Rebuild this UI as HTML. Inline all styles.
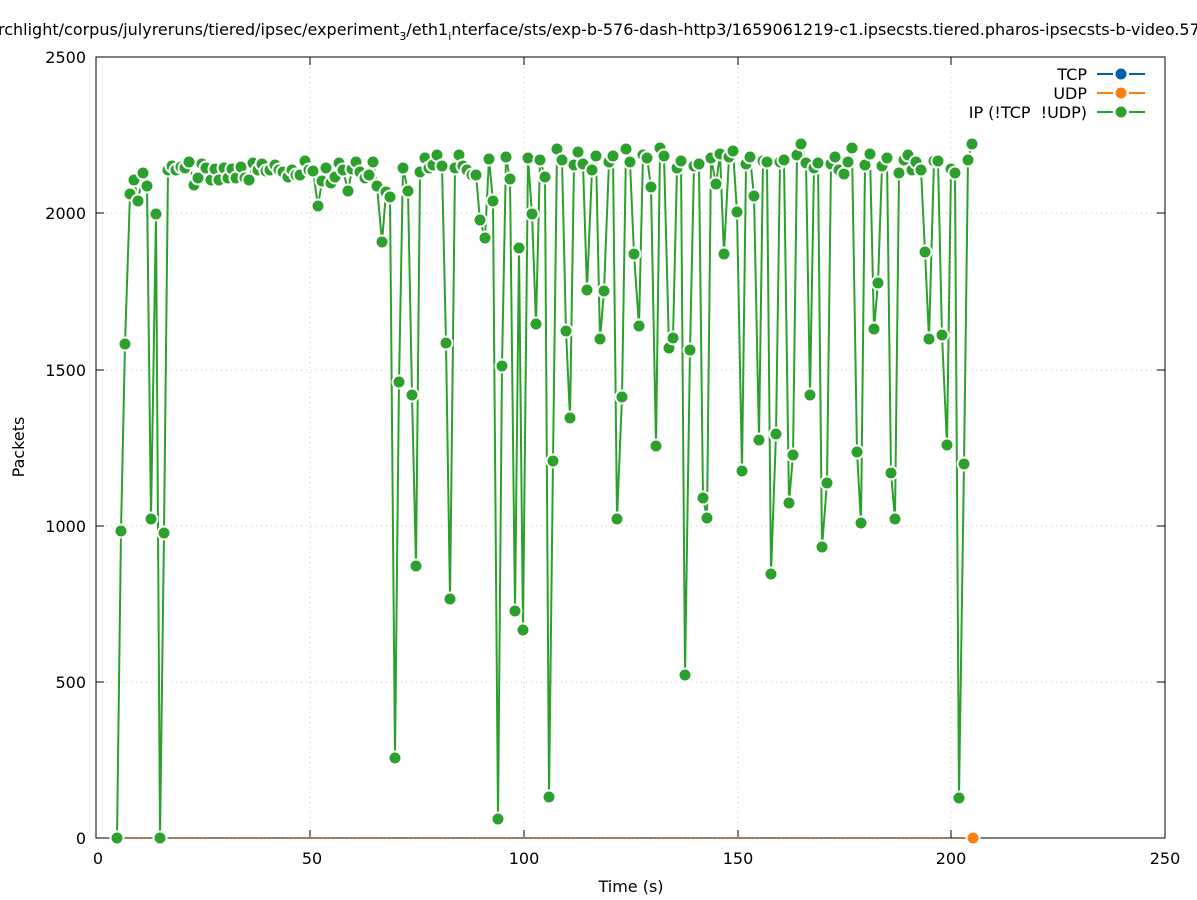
<!DOCTYPE html>
<html><head><meta charset="utf-8"><style>
body{margin:0;background:#fff}
svg{display:block;font-family:"DejaVu Sans","Liberation Sans",sans-serif}
</style></head><body>
<svg width="1197" height="900" viewBox="0 0 1197 900" xmlns="http://www.w3.org/2000/svg">
<rect width="1197" height="900" fill="#fff"/>
<g stroke="#c8c8c8" stroke-width="1" stroke-dasharray="1,4">
<line x1="310" y1="57" x2="310" y2="838"/><line x1="524" y1="57" x2="524" y2="838"/><line x1="738" y1="57" x2="738" y2="838"/><line x1="951" y1="57" x2="951" y2="838"/>
<line x1="96" y1="682" x2="1165" y2="682"/><line x1="96" y1="526" x2="1165" y2="526"/><line x1="96" y1="370" x2="1165" y2="370"/><line x1="96" y1="213" x2="1165" y2="213"/>
</g>
<rect x="96" y="57" width="1069" height="781" fill="none" stroke="#000" stroke-width="1"/>
<g stroke="#000" stroke-width="1">
<line x1="96" y1="838" x2="104" y2="838"/><line x1="96" y1="682" x2="104" y2="682"/><line x1="96" y1="526" x2="104" y2="526"/><line x1="96" y1="370" x2="104" y2="370"/><line x1="96" y1="213" x2="104" y2="213"/><line x1="96" y1="57" x2="104" y2="57"/>
<line x1="1165" y1="838" x2="1157" y2="838"/><line x1="1165" y1="682" x2="1157" y2="682"/><line x1="1165" y1="526" x2="1157" y2="526"/><line x1="1165" y1="370" x2="1157" y2="370"/><line x1="1165" y1="213" x2="1157" y2="213"/><line x1="1165" y1="57" x2="1157" y2="57"/>
<line x1="96" y1="838" x2="96" y2="830"/><line x1="310" y1="838" x2="310" y2="830"/><line x1="524" y1="838" x2="524" y2="830"/><line x1="738" y1="838" x2="738" y2="830"/><line x1="951" y1="838" x2="951" y2="830"/><line x1="1165" y1="838" x2="1165" y2="830"/>
<line x1="96" y1="57" x2="96" y2="65"/><line x1="310" y1="57" x2="310" y2="65"/><line x1="524" y1="57" x2="524" y2="65"/><line x1="738" y1="57" x2="738" y2="65"/><line x1="951" y1="57" x2="951" y2="65"/><line x1="1165" y1="57" x2="1165" y2="65"/>
</g>
<g font-size="16" fill="#000">
<g text-anchor="end"><text x="86" y="844">0</text><text x="86" y="688">500</text><text x="86" y="532">1000</text><text x="86" y="376">1500</text><text x="86" y="219">2000</text><text x="86" y="63">2500</text></g>
<g text-anchor="middle"><text x="98" y="864">0</text><text x="312" y="864">50</text><text x="524" y="864">100</text><text x="738" y="864">150</text><text x="951" y="864">200</text><text x="1165" y="864">250</text>
<text x="631" y="892">Time (s)</text></g>
<text transform="translate(24,447) rotate(-90)" text-anchor="middle">Packets</text>
<text x="-2" y="35">rchlight/corpus/julyreruns/tiered/ipsec/experiment<tspan font-size="11" dy="5">3</tspan><tspan dy="-5">/eth1</tspan><tspan font-size="11" dy="5">i</tspan><tspan dy="-5">nterface/sts/exp-b-576-dash-http3/1659061219-c1.ipsecsts.tiered.pharos-ipsecsts-b-video.57</tspan></text>
<g text-anchor="end"><text x="1087" y="80">TCP</text><text x="1087" y="99">UDP</text><text x="1087" y="118">IP (!TCP&#160; !UDP)</text></g>
</g>
<g stroke-width="2">
<line x1="1097" y1="74" x2="1113" y2="74" stroke="#0060ad"/><line x1="1129" y1="74" x2="1145" y2="74" stroke="#0060ad"/><circle cx="1121" cy="74" r="5.5" fill="#0060ad"/>
<line x1="1097" y1="93" x2="1113" y2="93" stroke="#ff7f0e"/><line x1="1129" y1="93" x2="1145" y2="93" stroke="#ff7f0e"/><circle cx="1121" cy="93" r="5.5" fill="#ff7f0e"/>
<line x1="1097" y1="112" x2="1113" y2="112" stroke="#2ca02c"/><line x1="1129" y1="112" x2="1145" y2="112" stroke="#2ca02c"/><circle cx="1121" cy="112" r="5.5" fill="#2ca02c"/>
</g>
<line x1="117" y1="838" x2="973" y2="838" stroke="#ff7f0e" stroke-width="2" stroke-dasharray="1,3.28"/>
<polyline fill="none" stroke="#2ca02c" stroke-width="2" stroke-linejoin="round" points="117,838 121,531 125,344 130,194 134,180 138,201 143,173 147,186 151,519 156,214 160,838 164,533 168,170 172,166 176,170 181,167 185,168 189,162 194,185 198,178 202,164 206,168 211,180 215,169 219,180 224,168 228,178 232,169 236,178 241,167 245,178 249,180 253,163 258,170 262,164 266,171 270,170 275,165 279,170 283,172 288,177 292,170 296,175 300,175 305,161 309,170 313,171 318,206 322,181 326,168 331,183 335,177 339,163 343,170 348,191 352,169 356,162 360,172 365,178 369,175 373,162 377,186 382,242 386,192 390,197 395,758 399,382 403,168 408,191 412,395 416,566 420,172 425,158 429,168 433,165 437,155 442,166 446,343 450,599 455,168 459,155 463,166 467,170 472,175 476,175 480,220 485,238 489,159 493,201 498,819 502,366 506,157 510,179 515,611 519,248 523,630 528,158 532,214 536,324 540,160 545,177 549,797 553,461 557,149 562,160 566,331 570,418 574,165 578,152 583,164 587,290 592,170 596,156 600,339 604,291 609,162 613,156 617,519 622,397 626,149 630,162 634,254 639,326 643,155 647,158 651,187 656,446 660,148 664,156 669,348 673,338 677,168 681,161 685,675 690,350 694,166 699,164 703,498 707,518 711,158 716,184 720,154 724,254 729,157 733,151 737,212 742,471 746,164 750,157 754,196 759,440 763,161 767,162 771,574 776,434 780,162 784,160 789,503 793,455 797,155 801,144 806,163 810,395 814,168 818,163 822,547 827,483 831,164 835,157 839,170 844,174 848,162 852,148 857,452 861,523 865,165 870,154 874,329 878,283 882,166 887,158 891,473 895,519 899,173 904,160 908,155 912,170 916,162 921,170 925,252 929,339 934,161 938,161 942,335 947,445 951,169 955,173 959,798 964,464 968,160 972,144"/>
<g fill="#2ca02c" stroke="#fff" stroke-width="2">
<circle cx="117" cy="838" r="6.5"/><circle cx="121" cy="531" r="6.5"/><circle cx="125" cy="344" r="6.5"/><circle cx="130" cy="194" r="6.5"/><circle cx="134" cy="180" r="6.5"/><circle cx="138" cy="201" r="6.5"/><circle cx="143" cy="173" r="6.5"/><circle cx="147" cy="186" r="6.5"/><circle cx="151" cy="519" r="6.5"/><circle cx="156" cy="214" r="6.5"/><circle cx="160" cy="838" r="6.5"/><circle cx="164" cy="533" r="6.5"/><circle cx="168" cy="170" r="6.5"/><circle cx="172" cy="166" r="6.5"/><circle cx="176" cy="170" r="6.5"/><circle cx="181" cy="167" r="6.5"/><circle cx="185" cy="168" r="6.5"/><circle cx="189" cy="162" r="6.5"/><circle cx="194" cy="185" r="6.5"/><circle cx="198" cy="178" r="6.5"/><circle cx="202" cy="164" r="6.5"/><circle cx="206" cy="168" r="6.5"/><circle cx="211" cy="180" r="6.5"/><circle cx="215" cy="169" r="6.5"/><circle cx="219" cy="180" r="6.5"/><circle cx="224" cy="168" r="6.5"/><circle cx="228" cy="178" r="6.5"/><circle cx="232" cy="169" r="6.5"/><circle cx="236" cy="178" r="6.5"/><circle cx="241" cy="167" r="6.5"/><circle cx="245" cy="178" r="6.5"/><circle cx="249" cy="180" r="6.5"/><circle cx="253" cy="163" r="6.5"/><circle cx="258" cy="170" r="6.5"/><circle cx="262" cy="164" r="6.5"/><circle cx="266" cy="171" r="6.5"/><circle cx="270" cy="170" r="6.5"/><circle cx="275" cy="165" r="6.5"/><circle cx="279" cy="170" r="6.5"/><circle cx="283" cy="172" r="6.5"/><circle cx="288" cy="177" r="6.5"/><circle cx="292" cy="170" r="6.5"/><circle cx="296" cy="175" r="6.5"/><circle cx="300" cy="175" r="6.5"/><circle cx="305" cy="161" r="6.5"/><circle cx="309" cy="170" r="6.5"/><circle cx="313" cy="171" r="6.5"/><circle cx="318" cy="206" r="6.5"/><circle cx="322" cy="181" r="6.5"/><circle cx="326" cy="168" r="6.5"/><circle cx="331" cy="183" r="6.5"/><circle cx="335" cy="177" r="6.5"/><circle cx="339" cy="163" r="6.5"/><circle cx="343" cy="170" r="6.5"/><circle cx="348" cy="191" r="6.5"/><circle cx="352" cy="169" r="6.5"/><circle cx="356" cy="162" r="6.5"/><circle cx="360" cy="172" r="6.5"/><circle cx="365" cy="178" r="6.5"/><circle cx="369" cy="175" r="6.5"/><circle cx="373" cy="162" r="6.5"/><circle cx="377" cy="186" r="6.5"/><circle cx="382" cy="242" r="6.5"/><circle cx="386" cy="192" r="6.5"/><circle cx="390" cy="197" r="6.5"/><circle cx="395" cy="758" r="6.5"/><circle cx="399" cy="382" r="6.5"/><circle cx="403" cy="168" r="6.5"/><circle cx="408" cy="191" r="6.5"/><circle cx="412" cy="395" r="6.5"/><circle cx="416" cy="566" r="6.5"/><circle cx="420" cy="172" r="6.5"/><circle cx="425" cy="158" r="6.5"/><circle cx="429" cy="168" r="6.5"/><circle cx="433" cy="165" r="6.5"/><circle cx="437" cy="155" r="6.5"/><circle cx="442" cy="166" r="6.5"/><circle cx="446" cy="343" r="6.5"/><circle cx="450" cy="599" r="6.5"/><circle cx="455" cy="168" r="6.5"/><circle cx="459" cy="155" r="6.5"/><circle cx="463" cy="166" r="6.5"/><circle cx="467" cy="170" r="6.5"/><circle cx="472" cy="175" r="6.5"/><circle cx="476" cy="175" r="6.5"/><circle cx="480" cy="220" r="6.5"/><circle cx="485" cy="238" r="6.5"/><circle cx="489" cy="159" r="6.5"/><circle cx="493" cy="201" r="6.5"/><circle cx="498" cy="819" r="6.5"/><circle cx="502" cy="366" r="6.5"/><circle cx="506" cy="157" r="6.5"/><circle cx="510" cy="179" r="6.5"/><circle cx="515" cy="611" r="6.5"/><circle cx="519" cy="248" r="6.5"/><circle cx="523" cy="630" r="6.5"/><circle cx="528" cy="158" r="6.5"/><circle cx="532" cy="214" r="6.5"/><circle cx="536" cy="324" r="6.5"/><circle cx="540" cy="160" r="6.5"/><circle cx="545" cy="177" r="6.5"/><circle cx="549" cy="797" r="6.5"/><circle cx="553" cy="461" r="6.5"/><circle cx="557" cy="149" r="6.5"/><circle cx="562" cy="160" r="6.5"/><circle cx="566" cy="331" r="6.5"/><circle cx="570" cy="418" r="6.5"/><circle cx="574" cy="165" r="6.5"/><circle cx="578" cy="152" r="6.5"/><circle cx="583" cy="164" r="6.5"/><circle cx="587" cy="290" r="6.5"/><circle cx="592" cy="170" r="6.5"/><circle cx="596" cy="156" r="6.5"/><circle cx="600" cy="339" r="6.5"/><circle cx="604" cy="291" r="6.5"/><circle cx="609" cy="162" r="6.5"/><circle cx="613" cy="156" r="6.5"/><circle cx="617" cy="519" r="6.5"/><circle cx="622" cy="397" r="6.5"/><circle cx="626" cy="149" r="6.5"/><circle cx="630" cy="162" r="6.5"/><circle cx="634" cy="254" r="6.5"/><circle cx="639" cy="326" r="6.5"/><circle cx="643" cy="155" r="6.5"/><circle cx="647" cy="158" r="6.5"/><circle cx="651" cy="187" r="6.5"/><circle cx="656" cy="446" r="6.5"/><circle cx="660" cy="148" r="6.5"/><circle cx="664" cy="156" r="6.5"/><circle cx="669" cy="348" r="6.5"/><circle cx="673" cy="338" r="6.5"/><circle cx="677" cy="168" r="6.5"/><circle cx="681" cy="161" r="6.5"/><circle cx="685" cy="675" r="6.5"/><circle cx="690" cy="350" r="6.5"/><circle cx="694" cy="166" r="6.5"/><circle cx="699" cy="164" r="6.5"/><circle cx="703" cy="498" r="6.5"/><circle cx="707" cy="518" r="6.5"/><circle cx="711" cy="158" r="6.5"/><circle cx="716" cy="184" r="6.5"/><circle cx="720" cy="154" r="6.5"/><circle cx="724" cy="254" r="6.5"/><circle cx="729" cy="157" r="6.5"/><circle cx="733" cy="151" r="6.5"/><circle cx="737" cy="212" r="6.5"/><circle cx="742" cy="471" r="6.5"/><circle cx="746" cy="164" r="6.5"/><circle cx="750" cy="157" r="6.5"/><circle cx="754" cy="196" r="6.5"/><circle cx="759" cy="440" r="6.5"/><circle cx="763" cy="161" r="6.5"/><circle cx="767" cy="162" r="6.5"/><circle cx="771" cy="574" r="6.5"/><circle cx="776" cy="434" r="6.5"/><circle cx="780" cy="162" r="6.5"/><circle cx="784" cy="160" r="6.5"/><circle cx="789" cy="503" r="6.5"/><circle cx="793" cy="455" r="6.5"/><circle cx="797" cy="155" r="6.5"/><circle cx="801" cy="144" r="6.5"/><circle cx="806" cy="163" r="6.5"/><circle cx="810" cy="395" r="6.5"/><circle cx="814" cy="168" r="6.5"/><circle cx="818" cy="163" r="6.5"/><circle cx="822" cy="547" r="6.5"/><circle cx="827" cy="483" r="6.5"/><circle cx="831" cy="164" r="6.5"/><circle cx="835" cy="157" r="6.5"/><circle cx="839" cy="170" r="6.5"/><circle cx="844" cy="174" r="6.5"/><circle cx="848" cy="162" r="6.5"/><circle cx="852" cy="148" r="6.5"/><circle cx="857" cy="452" r="6.5"/><circle cx="861" cy="523" r="6.5"/><circle cx="865" cy="165" r="6.5"/><circle cx="870" cy="154" r="6.5"/><circle cx="874" cy="329" r="6.5"/><circle cx="878" cy="283" r="6.5"/><circle cx="882" cy="166" r="6.5"/><circle cx="887" cy="158" r="6.5"/><circle cx="891" cy="473" r="6.5"/><circle cx="895" cy="519" r="6.5"/><circle cx="899" cy="173" r="6.5"/><circle cx="904" cy="160" r="6.5"/><circle cx="908" cy="155" r="6.5"/><circle cx="912" cy="170" r="6.5"/><circle cx="916" cy="162" r="6.5"/><circle cx="921" cy="170" r="6.5"/><circle cx="925" cy="252" r="6.5"/><circle cx="929" cy="339" r="6.5"/><circle cx="934" cy="161" r="6.5"/><circle cx="938" cy="161" r="6.5"/><circle cx="942" cy="335" r="6.5"/><circle cx="947" cy="445" r="6.5"/><circle cx="951" cy="169" r="6.5"/><circle cx="955" cy="173" r="6.5"/><circle cx="959" cy="798" r="6.5"/><circle cx="964" cy="464" r="6.5"/><circle cx="968" cy="160" r="6.5"/><circle cx="972" cy="144" r="6.5"/>
</g>
<circle cx="973" cy="838" r="6.5" fill="#ff7f0e" stroke="#fff" stroke-width="2"/>
</svg>
</body></html>
